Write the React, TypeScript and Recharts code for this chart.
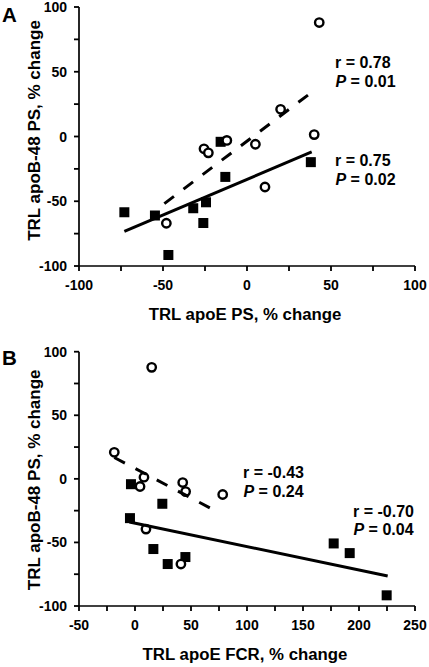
import { Scatter, ScatterChart, XAxis, YAxis } from "recharts";

const FONT = '"Liberation Sans", Arial, Helvetica, sans-serif';

// shared y axis (apoB-48 PS, % change)
const yTicks = [-100, -75, -50, -25, 0, 25, 50, 75, 100];

// panel A: TRL apoE PS, % change
const xTicksA = [-100, -75, -50, -25, 0, 25, 50, 75, 100];
const circlesA = [
  { x: 43, y: 88 },
  { x: 40, y: 1.5 },
  { x: 20, y: 21 },
  { x: 5, y: -6 },
  { x: 10.7, y: -39 },
  { x: -12, y: -3 },
  { x: -25.6, y: -9.5 },
  { x: -23, y: -12.6 },
  { x: -48, y: -67 },
];
const squaresA = [
  { x: -73, y: -58.5 },
  { x: -54.8, y: -61 },
  { x: -46.8, y: -91.5 },
  { x: -32, y: -55.4 },
  { x: -24.4, y: -50.8 },
  { x: -26, y: -66.8 },
  { x: -15.7, y: -4.1 },
  { x: -12.9, y: -31.2 },
  { x: 38, y: -19.8 },
];
const fitSquaresA = [
  { x: -73, y: -73.2 },
  { x: 38.5, y: -11.9 },
];
const fitCirclesA = [
  { x: -49.2, y: -51.8 },
  { x: 41.5, y: 37.1 },
];

// panel B: TRL apoE FCR, % change
const xTicksB = [-50, -25, 0, 25, 50, 75, 100, 125, 150, 175, 200, 225, 250];
const circlesB = [
  { x: 14.9, y: 87.7 },
  { x: -18.5, y: 20.9 },
  { x: 8, y: 1.3 },
  { x: 4.5, y: -6 },
  { x: 42.6, y: -2.9 },
  { x: 45.2, y: -10 },
  { x: 78.3, y: -12.3 },
  { x: 9.8, y: -39.5 },
  { x: 41, y: -67 },
];
const squaresB = [
  { x: -3.6, y: -4.2 },
  { x: -4.5, y: -30.9 },
  { x: 24.4, y: -19.6 },
  { x: 16.4, y: -55.2 },
  { x: 45, y: -61.5 },
  { x: 29.2, y: -67 },
  { x: 177.4, y: -50.8 },
  { x: 191.7, y: -58.4 },
  { x: 224.7, y: -91.6 },
];
const fitSquaresB = [
  { x: -5, y: -34 },
  { x: 225.6, y: -76.4 },
];
const fitCirclesB = [
  { x: -18.5, y: 16.8 },
  { x: 70, y: -24.3 },
];

const TICK_SIZE = 5;
const X_GAP = 9.5;
const Y_GAP = 7;

const Circle = (p: any) => (
  <circle cx={p.cx} cy={p.cy} r={4.2} fill="#fff" stroke="#000" strokeWidth={2.4} />
);
const Square = (p: any) => (
  <rect x={p.cx - 5} y={p.cy - 5} width={10} height={10} fill="#000" />
);
const NoDot = () => <g />;

// tick mark drawn here, label only on multiples of 50
const XTick = (p: any) => {
  const axisY = p.y - TICK_SIZE - X_GAP;
  return (
    <g>
      <rect x={p.x - 0.9} y={axisY} width={1.8} height={TICK_SIZE} fill="#000" />
      {p.payload.value % 50 === 0 && (
        <text x={p.x} y={p.y} dy="0.71em" textAnchor="middle" fontFamily={FONT} fontSize={14} fontWeight="bold" fill="#000">
          {p.payload.value}
        </text>
      )}
    </g>
  );
};

const YTick = (p: any) => {
  const axisX = p.x + TICK_SIZE + Y_GAP;
  return (
    <g>
      <rect x={axisX - TICK_SIZE} y={p.y - 0.9} width={TICK_SIZE} height={1.8} fill="#000" />
      {p.payload.value % 50 === 0 && (
        <text x={p.x} y={p.y} dy="0.36em" textAnchor="end" fontFamily={FONT} fontSize={14} fontWeight="bold" fill="#000">
          {p.payload.value}
        </text>
      )}
    </g>
  );
};

interface Note {
  r: string;
  p: string;
  x: number;
  y: number;
}

interface PanelProps {
  letter: string;
  height: number;
  top: number;
  xAxisHeight: number;
  xTicks: number[];
  xTitle: string;
  yTitleShift: number;
  circles: { x: number; y: number }[];
  squares: { x: number; y: number }[];
  fitSquares: { x: number; y: number }[];
  fitCircles: { x: number; y: number }[];
  notes: Note[];
}

function Panel(props: PanelProps) {
  const axisLine = { stroke: "#000", strokeWidth: 1.7 };
  return (
    <div style={{ position: "relative", width: 429, height: props.height }}>
      <ScatterChart
        width={429}
        height={props.height}
        margin={{ top: props.top, right: 14, bottom: 0, left: 0 }}
      >
        <XAxis
          type="number"
          dataKey="x"
          domain={[props.xTicks[0], props.xTicks[props.xTicks.length - 1]]}
          ticks={props.xTicks}
          interval={0}
          height={props.xAxisHeight}
          stroke="#000"
          axisLine={axisLine}
          tickLine={false}
          tickSize={TICK_SIZE}
          tickMargin={X_GAP}
          tick={XTick}
          label={{
            content: (l: any) => (
              <text
                x={l.viewBox.x + l.viewBox.width / 2 - 2}
                y={l.viewBox.y + 53.5}
                textAnchor="middle"
                fontFamily={FONT}
                fontSize={16.8}
                fontWeight="bold"
              >
                {props.xTitle}
              </text>
            ),
          }}
        />
        <YAxis
          type="number"
          dataKey="y"
          domain={[-100, 100]}
          ticks={yTicks}
          interval={0}
          width={79}
          stroke="#000"
          axisLine={axisLine}
          tickLine={false}
          tickSize={TICK_SIZE}
          tickMargin={Y_GAP}
          tick={YTick}
          label={{
            content: (l: any) => {
              const cx = 40;
              const cy = l.viewBox.y + l.viewBox.height / 2 + props.yTitleShift;
              return (
                <text
                  x={cx}
                  y={cy}
                  transform={`rotate(-90, ${cx}, ${cy})`}
                  textAnchor="middle"
                  fontFamily={FONT}
                  fontSize={17}
                  fontWeight="bold"
                >
                  TRL apoB-48 PS, % change
                </text>
              );
            },
          }}
        />
        <Scatter data={props.squares} shape={Square} isAnimationActive={false} />
        <Scatter data={props.circles} shape={Circle} isAnimationActive={false} />
        <Scatter
          data={props.fitSquares}
          shape={NoDot}
          line={{ stroke: "#000", strokeWidth: 3 }}
          lineType="joint"
          isAnimationActive={false}
        />
        <Scatter
          data={props.fitCircles}
          shape={NoDot}
          line={{ stroke: "#000", strokeWidth: 3, strokeDasharray: "12 12" }}
          lineType="joint"
          isAnimationActive={false}
        />
      </ScatterChart>
      <svg
        width={429}
        height={props.height}
        style={{ position: "absolute", left: 0, top: 0, pointerEvents: "none" }}
        fontFamily={FONT}
        fontWeight="bold"
      >
        <text x={2} y={props.letter === "A" ? 21.7 : 35} fontSize={20.5}>
          {props.letter}
        </text>
        {props.notes.map((n) => (
          <g key={n.r} fontSize={16}>
            <text x={n.x} y={n.y}>
              {n.r}
            </text>
            <text x={n.x + 0.5} y={n.y + 18.5}>
              <tspan fontStyle="italic">P</tspan>
              {n.p}
            </text>
          </g>
        ))}
      </svg>
    </div>
  );
}

export default function App() {
  return (
    <div style={{ position: "absolute", left: 0, top: 0, width: 429, height: 667, background: "#fff" }}>
      <Panel
        letter="A"
        height={330}
        top={7}
        xAxisHeight={64}
        xTicks={xTicksA}
        xTitle="TRL apoE PS, % change"
        yTitleShift={-6}
        circles={circlesA}
        squares={squaresA}
        fitSquares={fitSquaresA}
        fitCircles={fitCirclesA}
        notes={[
          { r: "r = 0.78", p: " = 0.01", x: 335, y: 68.3 },
          { r: "r = 0.75", p: " = 0.02", x: 335, y: 166 },
        ]}
      />
      <Panel
        letter="B"
        height={337}
        top={21.7}
        xAxisHeight={61}
        xTicks={xTicksB}
        xTitle="TRL apoE FCR, % change"
        yTitleShift={1}
        circles={circlesB}
        squares={squaresB}
        fitSquares={fitSquaresB}
        fitCircles={fitCirclesB}
        notes={[
          { r: "r = -0.43", p: " = 0.24", x: 243, y: 148.3 },
          { r: "r = -0.70", p: " = 0.04", x: 353, y: 186.7 },
        ]}
      />
    </div>
  );
}
